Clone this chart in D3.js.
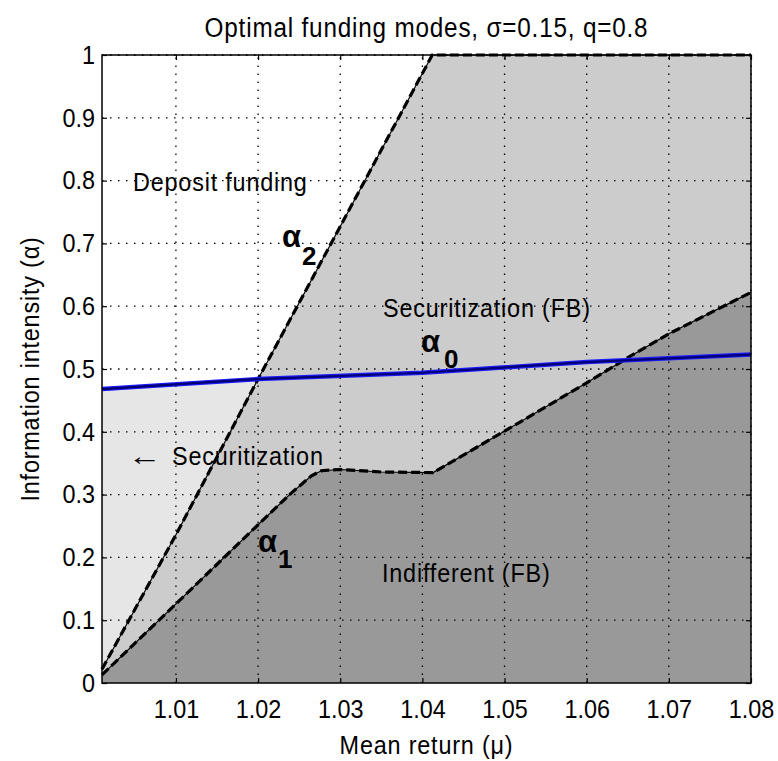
<!DOCTYPE html>
<html><head><meta charset="utf-8">
<script src="https://cdn.jsdelivr.net/npm/d3@7"></script>
<style>body{margin:0;background:#fff} svg{display:block}</style>
</head><body>
<script>
// ---- data ----
const muAlpha0 = [1.001, 1.02, 1.04, 1.06, 1.08];
const alpha0   = [0.468, 0.484, 0.494, 0.511, 0.523];

const muAlpha1 = [1.001, 1.01, 1.02, 1.024, 1.0265, 1.0277, 1.03, 1.035, 1.0413, 1.05, 1.06, 1.065, 1.07, 1.08];
const alpha1   = [0.013, 0.126, 0.252, 0.302, 0.330, 0.338, 0.340, 0.336, 0.335, 0.401, 0.478, 0.518, 0.556, 0.622];

const muAlpha2 = [1.001, 1.01, 1.02, 1.03, 1.0412, 1.05, 1.06, 1.07, 1.08];
const alpha2   = [0.022, 0.236, 0.484, 0.727, 1.0, 1.0, 1.0, 1.0, 1.0];

const xTicks = [1.01, 1.02, 1.03, 1.04, 1.05, 1.06, 1.07, 1.08];
const xTickLabels = ["1.01", "1.02", "1.03", "1.04", "1.05", "1.06", "1.07", "1.08"];
const yTicks = [0, 0.1, 0.2, 0.3, 0.4, 0.5, 0.6, 0.7, 0.8, 0.9, 1];
const yTickLabels = ["0", "0.1", "0.2", "0.3", "0.4", "0.5", "0.6", "0.7", "0.8", "0.9", "1"];

const titleText = "Optimal funding modes, \u03C3=0.15, q=0.8";
const xLabel = "Mean return (\u03BC)";
const yLabel = "Information intensity (\u03B1)";
const regionNames = ["Deposit funding", "Securitization (FB)", "\u2190 Securitization", "Indifferent (FB)"];
const curveNames = [["\u03B1", "2"], ["\u03B1", "0"], ["\u03B1", "1"]];

// ---- layout ----
const W = 778, H = 761;
const P = {l: 102, r: 751, t: 55, b: 683};
const FONT = "'Liberation Sans', Arial, Helvetica, sans-serif";
const SX = 0.9;

const x = d3.scaleLinear().domain([1.001, 1.08]).range([P.l, P.r]);
const y = d3.scaleLinear().domain([0, 1]).range([P.b, P.t]);

const svg = d3.select("body").append("svg").attr("width", W).attr("height", H)
  .style("font-family", FONT);
svg.append("rect").attr("width", W).attr("height", H).attr("fill", "#fff");

const zip = (a, b) => a.map((v, i) => [v, b[i]]);
const d0 = zip(muAlpha0, alpha0), d1 = zip(muAlpha1, alpha1), d2 = zip(muAlpha2, alpha2);

const area = d3.area().x(d => x(d[0])).y0(y(0)).y1(d => y(d[1]));
const line = d3.line().x(d => x(d[0])).y(d => y(d[1]));

const plot = svg.append("g");
plot.append("rect").attr("x", P.l).attr("y", P.t).attr("width", P.r - P.l).attr("height", P.b - P.t).attr("fill", "#fff");
plot.append("path").attr("d", area(d0)).attr("fill", "#e6e6e6");
plot.append("path").attr("d", area(d2)).attr("fill", "#cccccc");
plot.append("path").attr("d", area(d1)).attr("fill", "#999999");

// grid
const grid = svg.append("g").attr("stroke", "#000").attr("stroke-width", 1.3).attr("stroke-dasharray", "1.5,6.5");
grid.selectAll(".gx").data(xTicks).join("line")
  .attr("x1", d => x(d)).attr("x2", d => x(d)).attr("y1", P.b).attr("y2", P.t);
grid.selectAll(".gy").data(yTicks.filter(v => v > 0)).join("line")
  .attr("y1", d => y(d)).attr("y2", d => y(d)).attr("x1", P.l).attr("x2", P.r);

// boundary curves
function dashedCurve(data) {
  svg.append("path").attr("d", line(data)).attr("fill", "none").attr("stroke", "#000").attr("stroke-width", 1.2);
  svg.append("path").attr("d", line(data)).attr("fill", "none").attr("stroke", "#000")
    .attr("stroke-width", 3.2).attr("stroke-dasharray", "9,4");
}
dashedCurve(d2);
dashedCurve(d1);
svg.append("path").attr("d", line(d0)).attr("fill", "none").attr("stroke", "#1a1aff").attr("stroke-width", 4.5);
svg.append("path").attr("d", line(d0)).attr("fill", "none").attr("stroke", "#000070").attr("stroke-width", 2.2);

// axes (inward ticks on all four sides)
const tfmt = (arr, labels) => (d) => labels[arr.indexOf(d)];
const xa = svg.append("g").attr("transform", `translate(0,${P.b})`)
  .call(d3.axisBottom(x).tickValues(xTicks).tickFormat(tfmt(xTicks, xTickLabels)).tickSize(-5).tickSizeOuter(0).tickPadding(17));
const ya = svg.append("g").attr("transform", `translate(${P.l},0)`)
  .call(d3.axisLeft(y).tickValues(yTicks).tickFormat(tfmt(yTicks, yTickLabels)).tickSize(-5).tickSizeOuter(0).tickPadding(7));
svg.append("g").attr("transform", `translate(0,${P.t})`)
  .call(d3.axisTop(x).tickValues(xTicks).tickFormat("").tickSize(-5).tickSizeOuter(0));
svg.append("g").attr("transform", `translate(${P.r},0)`)
  .call(d3.axisRight(y).tickValues(yTicks).tickFormat("").tickSize(-5).tickSizeOuter(0));
svg.selectAll(".domain").attr("stroke", "none");
svg.selectAll(".tick line").attr("stroke", "#000").attr("stroke-width", 1.2);
[xa, ya].forEach(g => g.selectAll("text")
  .attr("font-family", FONT).attr("font-size", 26).attr("fill", "#000")
  .attr("transform", `scale(${SX},1)`));
ya.selectAll("text").attr("x", -7 / SX);

svg.append("rect").attr("x", P.l).attr("y", P.t).attr("width", P.r - P.l).attr("height", P.b - P.t)
  .attr("fill", "none").attr("stroke", "#000").attr("stroke-width", 1.5);

// text helper (condensed look)
function ctext(str, px, py, size, anchor, extra, sx, ls) {
  const g = svg.append("g").attr("transform", `translate(${px},${py}) ${extra || ""} scale(${sx || SX},1)`);
  return g.append("text").text(str).attr("font-size", size).attr("text-anchor", anchor)
    .attr("fill", "#000").style("letter-spacing", (ls === undefined ? 0.9 : ls) + "px");
}
ctext(titleText, (P.l + P.r) / 2, 37, 27, "middle");
ctext(xLabel, (P.l + P.r) / 2, 754, 26, "middle");
ctext(yLabel, 39, (P.t + P.b) / 2, 26, "middle", "rotate(-90)");

ctext(regionNames[0], 133, 191, 26, "start");
ctext(regionNames[1], 383, 317, 26, "start");
// arrow drawn wider, as in the reference
const arrowTxt = regionNames[2].split(" ");
ctext(arrowTxt[0], 128, 465, 26, "start", "", 1.3, 0);
ctext(arrowTxt.slice(1).join(" "), 172, 465, 26, "start");
ctext(regionNames[3], 382, 582, 26, "start");

// curve labels
const curvePos = [[282, 247, 302, 265], [421, 352, 444, 368], [258, 552, 278, 568]];
curveNames.forEach((c, i) => {
  const p = curvePos[i];
  svg.append("text").text(c[0]).attr("x", p[0]).attr("y", p[1]).attr("font-size", 31).attr("font-weight", "bold").attr("fill", "#000");
  svg.append("text").text(c[1]).attr("x", p[2]).attr("y", p[3]).attr("font-size", 26).attr("font-weight", "bold").attr("fill", "#000");
});
</script>
</body></html>
